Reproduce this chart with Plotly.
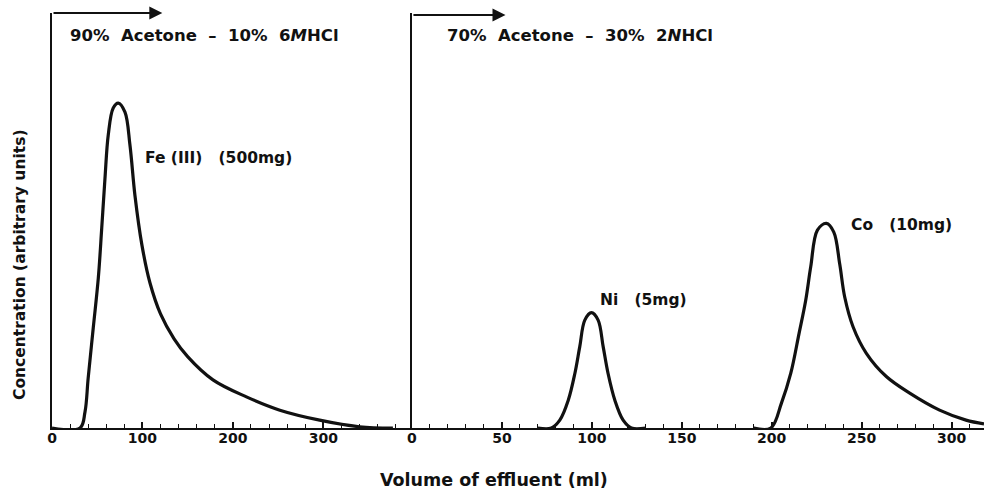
import plotly.graph_objects as go

# ---- data ----
fe_ml = [0, 31, 36.5, 40, 45.6, 51.2, 55, 58.6, 62.2, 67.7, 73.3, 80.7, 86.2, 91.7, 99.5,
         108.3, 120, 135, 150, 178, 215, 252, 296, 340, 377]
fe_conc = [0, 0, 3.9, 12, 24.1, 36.1, 48.2, 60.2, 70.6, 77.1, 78.3, 76.1, 68.2, 56.1, 44,
           35, 27.5, 21.5, 17.2, 11.6, 7.5, 4.3, 1.9, 0.3, 0]

ni_ml = [70, 77.5, 82.2, 86.9, 90.6, 93.3, 96.1, 99.8, 103.5, 106.3, 109, 112.8, 117.4, 122, 130]
ni_conc = [0, 0, 1.9, 6.7, 13.2, 19.6, 26, 27.8, 26, 19.6, 13.2, 6.7, 1.9, 0, 0]

co_ml = [190, 199.5, 205.4, 210.6, 215.2, 218.9, 221.7, 225.4, 230.4, 234.5, 237.8, 240.6,
         245.2, 252.6, 263.7, 276.7, 293.3, 308, 318]
co_conc = [0, 0, 6.0, 13.2, 22.8, 30.8, 38.9, 47.7, 49.3, 47.2, 39.5, 31.5,
           24.4, 18, 12.4, 8.4, 4.3, 1.9, 1]

left_ticks = [0, 100, 200, 300]
right_ticks = [0, 50, 100, 150, 200, 250, 300]

NB = "\u00a0"
eluent_left = f"90%{NB}{NB}Acetone{NB}{NB}–{NB}{NB}10%{NB}{NB}6<i>M</i>HCl"
eluent_right = f"70%{NB}{NB}Acetone{NB}{NB}–{NB}{NB}30%{NB}{NB}2<i>N</i>HCl"
label_fe = f"Fe{NB}(III){NB}{NB}{NB}(500mg)"
label_ni = f"Ni{NB}{NB}{NB}(5mg)"
label_co = f"Co{NB}{NB}{NB}(10mg)"

FONT = "DejaVu Sans"
BLACK = "#111111"

fig = go.Figure()
line_style = dict(color=BLACK, width=3.2, shape="spline", smoothing=1.0)
fig.add_trace(go.Scatter(x=fe_ml, y=fe_conc, mode="lines", line=line_style,
                         xaxis="x", yaxis="y", showlegend=False, hoverinfo="skip"))
fig.add_trace(go.Scatter(x=ni_ml, y=ni_conc, mode="lines", line=line_style,
                         xaxis="x2", yaxis="y2", showlegend=False, hoverinfo="skip"))
fig.add_trace(go.Scatter(x=co_ml, y=co_conc, mode="lines", line=line_style,
                         xaxis="x2", yaxis="y2", showlegend=False, hoverinfo="skip"))

axis_common = dict(showgrid=False, zeroline=False, showline=True, linecolor=BLACK,
                   linewidth=2, ticks="inside", ticklen=6, tickwidth=1.5, tickcolor=BLACK,
                   ticklabelstandoff=-4,
                   tickfont=dict(family=FONT, size=14, color=BLACK, weight="bold"))

W_PLOT = 932.0
split = (411 - 52) / W_PLOT

fig.update_layout(
    width=984, height=489,
    margin=dict(l=52, r=0, t=13, b=61),
    paper_bgcolor="white", plot_bgcolor="white",
    xaxis=dict(domain=[0, split], range=[0, 397], tickvals=left_ticks,
               minor=dict(dtick=20, ticks="inside", ticklen=4, tickcolor=BLACK, tickwidth=1.2),
               **axis_common),
    yaxis=dict(domain=[0, 1], range=[0, 100], showticklabels=False, showgrid=False,
               zeroline=False, showline=True, linecolor=BLACK, linewidth=2, ticks=""),
    xaxis2=dict(domain=[split + 0.001, 1], range=[0, 318], tickvals=right_ticks, anchor="y2",
                minor=dict(dtick=10, ticks="inside", ticklen=4, tickcolor=BLACK, tickwidth=1.2),
                **axis_common),
    yaxis2=dict(domain=[0, 1], range=[0, 100], anchor="x2", showticklabels=False,
                showgrid=False, zeroline=False, showline=True, linecolor=BLACK, linewidth=2,
                ticks=""),
)

txt = dict(family=FONT, size=15.5, color=BLACK, weight="bold")
txt_el = dict(family=FONT, size=16.5, color=BLACK, weight="bold")
ann = []
# eluent arrows
ann.append(dict(x=122, y=100, xref="x", yref="y", ax=0, ay=100, axref="x", ayref="y",
                showarrow=True, arrowhead=2, arrowsize=1.3, arrowwidth=2, arrowcolor=BLACK,
                text=""))
ann.append(dict(x=52, y=99.5, xref="x2", yref="y2", ax=0, ay=99.5, axref="x2", ayref="y2",
                showarrow=True, arrowhead=2, arrowsize=1.3, arrowwidth=2, arrowcolor=BLACK,
                text=""))
ann.append(dict(x=17.7, y=94.5, xref="x", yref="y", text=eluent_left, showarrow=False,
                xanchor="left", yanchor="middle", font=txt_el))
ann.append(dict(x=18.3, y=94.5, xref="x2", yref="y2", text=eluent_right, showarrow=False,
                xanchor="left", yanchor="middle", font=txt_el))
ann.append(dict(x=100.5, y=65, xref="x", yref="y", text=label_fe, showarrow=False,
                xanchor="left", yanchor="middle", font=txt))
ann.append(dict(x=103.3, y=30.8, xref="x2", yref="y2", text=label_ni, showarrow=False,
                xanchor="left", yanchor="middle", font=txt))
ann.append(dict(x=243, y=48.9, xref="x2", yref="y2", text=label_co, showarrow=False,
                xanchor="left", yanchor="middle", font=txt))
# axis titles
ann.append(dict(x=(494 - 52) / W_PLOT, y=-0.125, xref="paper", yref="paper",
                text="Volume of effluent (ml)", showarrow=False, xanchor="center",
                yanchor="middle", font=dict(family=FONT, size=17.5, color=BLACK, weight="bold")))
ann.append(dict(x=(20 - 52) / W_PLOT, y=(428 - 265) / 415.0, xref="paper", yref="paper",
                text="Concentration (arbitrary units)", showarrow=False, textangle=-90,
                xanchor="center", yanchor="middle",
                font=dict(family=FONT, size=15.5, color=BLACK, weight="bold")))
fig.update_layout(annotations=ann)

fig.write_html("out.html", config={"displayModeBar": False},
               post_script="document.body.style.margin='0';document.body.style.padding='0';")
